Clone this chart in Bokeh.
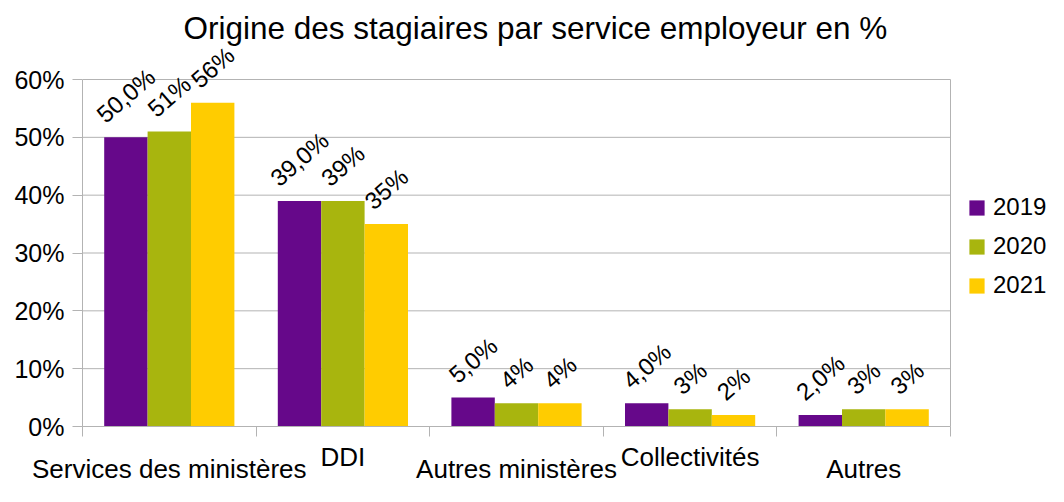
import math
from bokeh.plotting import figure
from bokeh.models import (ColumnDataSource, FixedTicker, LinearAxis, PrintfTickFormatter,
                          Range1d, Legend, LegendItem, LabelSet, Title)
from bokeh.transform import dodge
from bokeh.core.properties import value
from bokeh.embed import file_html
from bokeh.resources import INLINE

# ---------------- data ----------------
categories = ["Services des ministères", "DDI", "Autres ministères", "Collectivités", "Autres"]
years = ["2019", "2020", "2021"]
values_2019 = [50.0, 39.0, 5.0, 4.0, 2.0]
values_2020 = [51, 39, 4, 3, 3]
values_2021 = [56, 35, 4, 2, 3]
labels_2019 = ["50,0%", "39,0%", "5,0%", "4,0%", "2,0%"]
labels_2020 = ["51%", "39%", "4%", "3%", "3%"]
labels_2021 = ["56%", "35%", "4%", "2%", "3%"]
y_ticks = [0, 10, 20, 30, 40, 50, 60]
title_text = "Origine des stagiaires par service employeur en %"

# ---------------- style ----------------
FONT = "Liberation Sans"
GRAY = "#b3b3b3"
colors = ["#66088a", "#a8b50e", "#ffcc00"]
LABEL_PX = 24
ANGLE = 41
CHAR_EM = {"0": .556, "1": .556, "2": .556, "3": .556, "4": .556, "5": .556,
           "6": .556, "7": .556, "8": .556, "9": .556, ",": .278, "%": .889}

W, H = 1048, 486
FRAME_TOP, GRID_TOP, FRAME_BOTTOM = 45, 79, 426   # pixel layout
FRAME_LEFT, PLOT_RIGHT = 82, 950


def lift(label):
    w = sum(CHAR_EM.get(c, .556) for c in label) * LABEL_PX
    return 19.5 + w * math.sin(math.radians(ANGLE)) / 2


n = len(categories)
centers = [i + 0.5 for i in range(n)]
src = ColumnDataSource(dict(
    x=centers,
    v2019=values_2019, v2020=values_2020, v2021=values_2021,
    l2019=labels_2019, l2020=labels_2020, l2021=labels_2021,
    o2019=[lift(s) for s in labels_2019],
    o2020=[lift(s) for s in labels_2020],
    o2021=[lift(s) for s in labels_2021],
))

y_top = y_ticks[-1] * (FRAME_BOTTOM - FRAME_TOP) / (FRAME_BOTTOM - GRID_TOP)
x_end = n * (W - FRAME_LEFT) / (PLOT_RIGHT - FRAME_LEFT)

p = figure(width=W, height=H, x_range=Range1d(0, x_end),
           y_range=Range1d(y_ticks[0], y_top),
           output_backend="svg", toolbar_location=None,
           x_axis_location=None, y_axis_location=None,
           min_border_left=FRAME_LEFT, min_border_right=0,
           min_border_top=FRAME_TOP, min_border_bottom=H - FRAME_BOTTOM)
p.outline_line_color = None
p.xgrid.visible = False
p.ygrid.visible = False

p.title = Title(text=title_text, align="left", offset=101, standoff=0,
                text_font=FONT, text_font_size="31.5px", text_font_style="normal",
                text_color="black")

# y axis
yax = LinearAxis(ticker=FixedTicker(ticks=y_ticks), formatter=PrintfTickFormatter(format="%d%%"),
                 bounds=(y_ticks[0], y_ticks[-1]),
                 axis_line_color=GRAY, major_tick_line_color=GRAY, major_tick_out=10,
                 major_tick_in=0, minor_tick_line_color=None, major_label_standoff=8,
                 major_label_text_font=FONT, major_label_text_font_size="25px",
                 major_label_text_color="black")
p.add_layout(yax, "left")

# horizontal grid lines limited to the plot area, and right border
p.segment(x0=[0] * len(y_ticks), x1=[n] * len(y_ticks), y0=y_ticks, y1=y_ticks,
          line_color=GRAY, line_width=1)
p.segment(x0=[n], x1=[n], y0=[y_ticks[0]], y1=[y_ticks[-1]], line_color=GRAY, line_width=1)

# x axes: staggered category labels
row1 = [c for i, c in enumerate(centers) if i % 2 == 1]
row2 = [c for i, c in enumerate(centers) if i % 2 == 0]
bounds = list(range(n + 1))
xax1 = LinearAxis(ticker=FixedTicker(ticks=row1, minor_ticks=bounds), bounds=(0, n),
                  major_label_overrides={c: categories[int(c)] for c in row1},
                  axis_line_color=GRAY, major_tick_line_color=None, major_tick_out=10, major_tick_in=0,
                  minor_tick_line_color=GRAY, minor_tick_out=10, minor_tick_in=0,
                  major_label_standoff=5, major_label_text_font=FONT,
                  major_label_text_font_size="26px", major_label_text_color="black")
xax2 = LinearAxis(ticker=FixedTicker(ticks=row2, minor_ticks=[]), bounds=(0, n),
                  major_label_overrides={c: categories[int(c)] for c in row2},
                  axis_line_color=None, major_tick_line_color=None, major_tick_out=0, major_tick_in=0,
                  minor_tick_line_color=None, minor_tick_out=0, minor_tick_in=0,
                  major_label_standoff=-21, major_label_text_font=FONT,
                  major_label_text_font_size="26px", major_label_text_color="black")
p.add_layout(xax1, "below")
p.add_layout(xax2, "below")

renderers = []
for k, (yr, col) in enumerate(zip(years, colors)):
    off = (k - 1) * 0.25
    r = p.vbar(x=dodge("x", off, range=p.x_range), top="v" + yr, width=0.25, source=src,
               fill_color=col, line_color=None)
    renderers.append(r)
    p.add_layout(LabelSet(x=dodge("x", off, range=p.x_range), y="v" + yr, text="l" + yr,
                          y_offset="o" + yr, angle=ANGLE, angle_units="deg",
                          text_align="center", text_baseline="middle",
                          text_font=value(FONT), text_font_size=value(f"{LABEL_PX}px"),
                          text_color="black", source=src))

legend = Legend(items=[LegendItem(label=yr, renderers=[r]) for yr, r in zip(years, renderers)],
                location=(885, 127), glyph_width=19, glyph_height=19, label_standoff=7,
                spacing=11, padding=0, margin=0, border_line_color=None,
                background_fill_alpha=0, label_text_font=FONT, label_text_font_size="24px",
                label_text_color="black")
p.add_layout(legend, "center")

open("out.html", "w").write(file_html(p, INLINE))
